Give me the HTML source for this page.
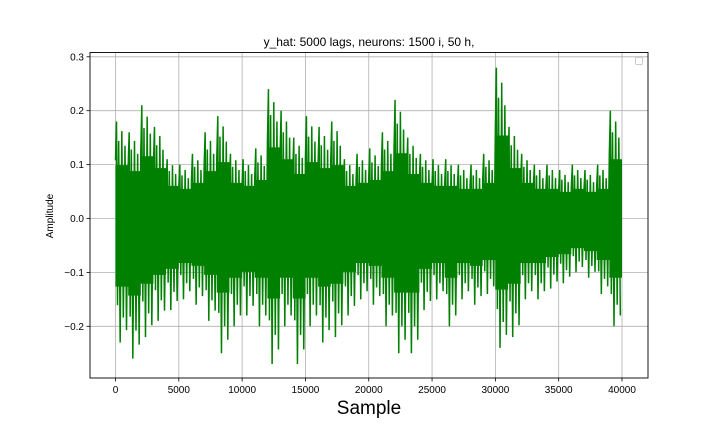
<!DOCTYPE html>
<html><head><meta charset="utf-8"><style>
body{margin:0;background:#fff}
svg text{font-family:"Liberation Sans","DejaVu Sans",sans-serif;fill:#000}
</style></head><body>
<svg width="720" height="432" id="c">
<rect x="0" y="0" width="720" height="432" fill="#fff"/>
<g id="grid"></g>
<g id="series"></g>
<rect x="90" y="52.5" width="558" height="325.5" fill="none" stroke="#000" stroke-width="0.9"/>
<g id="ticks"></g>
<text x="369" y="46" font-size="12" text-anchor="middle">y_hat: 5000 lags, neurons: 1500 i, 50 h,</text>
<text x="369" y="414" font-size="19" text-anchor="middle">Sample</text>
<text transform="translate(53,216) rotate(-90)" font-size="10" text-anchor="middle">Amplitude</text>
<rect x="635.5" y="57.5" width="7" height="7" fill="#fff" stroke="#ccc" rx="1"/>
</svg>
<script>
const xTicks=[0,5000,10000,15000,20000,25000,30000,35000,40000];
const yTicks=[-0.2,-0.1,0.0,0.1,0.2,0.3];
const yTickLabels=["−0.2","−0.1","0.0","0.1","0.2","0.3"];
const binStart=[0,1000,2000,3000,4000,5000,6000,7000,8000,9000,10000,11000,12000,13000,14000,15000,16000,17000,18000,19000,20000,21000,22000,23000,24000,25000,26000,27000,28000,29000,30000,31000,32000,33000,34000,35000,36000,37000,38000,39000];
const binMax=[0.18,0.16,0.21,0.17,0.11,0.10,0.12,0.16,0.19,0.12,0.11,0.13,0.24,0.20,0.15,0.19,0.17,0.18,0.11,0.12,0.13,0.16,0.22,0.15,0.12,0.11,0.11,0.10,0.10,0.12,0.28,0.17,0.12,0.10,0.10,0.09,0.10,0.09,0.10,0.20];
const binMin=[-0.23,-0.26,-0.22,-0.19,-0.17,-0.15,-0.16,-0.19,-0.25,-0.20,-0.18,-0.20,-0.27,-0.20,-0.27,-0.20,-0.23,-0.22,-0.18,-0.15,-0.16,-0.20,-0.25,-0.25,-0.17,-0.15,-0.20,-0.15,-0.16,-0.14,-0.24,-0.22,-0.15,-0.15,-0.13,-0.12,-0.10,-0.11,-0.14,-0.20];
const NS='http://www.w3.org/2000/svg';
function X(v){return 115.5+v*(506.5/40000);}
function Y(v){return 218.5+(-v)*539;}
const grid=document.getElementById('grid'),ticks=document.getElementById('ticks'),ser=document.getElementById('series');
function mk(tag,attrs,parent){const e=document.createElementNS(NS,tag);for(const k in attrs)e.setAttribute(k,attrs[k]);parent.appendChild(e);return e;}
xTicks.forEach(t=>{
  const g=mk('line',{x1:X(t),x2:X(t),y1:52.5,y2:378,stroke:'#b0b0b0','stroke-width':0.8},grid);
  
  
  const tk=mk('line',{x1:X(t),x2:X(t),y1:378,y2:381.5,stroke:'#000','stroke-width':0.8},ticks);
  
  
  const tx=mk('text',{x:X(t),y:393,'font-size':10,'text-anchor':'middle'},ticks);
  tx.textContent=t;
  
  
});
yTicks.forEach((t,i)=>{
  const g=mk('line',{x1:90,x2:648,y1:Y(t),y2:Y(t),stroke:'#b0b0b0','stroke-width':0.8},grid);
  
  
  const tk=mk('line',{x1:86.5,x2:90,y1:Y(t),y2:Y(t),stroke:'#000','stroke-width':0.8},ticks);
  
  
  const tx=mk('text',{x:84,y:Y(t)+3.5,'font-size':10,'text-anchor':'end'},ticks);
  tx.textContent=yTickLabels[i];
  
  
});
let upperPath='',lowerPath='';
binStart.forEach((s,i)=>{upperPath+=(i?'L':'M')+X(s)+','+Y(binMax[i]*0.55)+'L'+X(s+1000)+','+Y(binMax[i]*0.55);});
for(let i=binStart.length-1;i>=0;i--){lowerPath+='L'+X(binStart[i]+1000)+','+Y(binMin[i]*0.55)+'L'+X(binStart[i])+','+Y(binMin[i]*0.55);}
const core=mk('path',{d:upperPath+lowerPath+'Z',fill:'#008000'},ser);


let spikePath='';
binStart.forEach((s,i)=>{
  const a=X(s),b=X(s+250),c=X(s+500),e=X(s+750);
  spikePath+=(i?'L':'M')+a+','+Y(binMax[i]*0.6)+'L'+(a+1)+','+Y(binMax[i])+'L'+(a+2)+','+Y(binMin[i]*0.7)
   +'L'+b+','+Y(binMax[i]*0.8)+'L'+(b+1.5)+','+Y(binMin[i])+'L'+c+','+Y(binMax[i]*0.9)
   +'L'+(c+1.5)+','+Y(binMin[i]*0.8)+'L'+e+','+Y(binMax[i]*0.75)+'L'+(e+1.5)+','+Y(binMin[i]*0.9);
});
const sp=mk('path',{d:spikePath,fill:'none',stroke:'#008000','stroke-width':1.5},ser);


</script>
</body></html>
